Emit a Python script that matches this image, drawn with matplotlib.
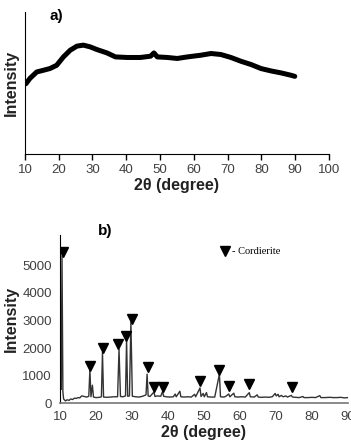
"""XRD patterns: a) amorphous glass, b) crystallised sample with cordierite peaks."""
import matplotlib
matplotlib.use("Agg")
import matplotlib.pyplot as plt

plt.rcParams["font.family"] = ["Liberation Sans", "DejaVu Sans"]

# ── a) amorphous halo (relative intensity, read off the picture) ───────────
a_2theta = [10.3, 11.5, 13.5, 15.5, 17.4, 19.4, 21.4, 23.4, 25.4, 27.3, 29.3,
            31.3, 34.3, 36.8, 40.3, 44.2, 47.2, 48.2, 49.2, 52.2, 55.1, 58.1,
            62.1, 65.1, 68.0, 71.0, 74.0, 77.0, 79.9, 82.9, 85.9, 88.9, 89.9]
a_int = [49.4, 53.2, 57.7, 58.9, 60.1, 62.4, 68.3, 73.0, 75.9, 76.6, 75.4,
         73.5, 71.1, 68.3, 67.9, 67.9, 68.8, 71.1, 68.3, 67.9, 67.2, 68.3,
         69.5, 70.7, 70.0, 67.9, 65.2, 62.9, 60.1, 58.4, 57.0, 55.3, 54.6]

# ── b) crystallised pattern ────────────────────────────────────────────────
b_2theta = [10.35, 10.55, 10.8, 11.0, 11.5, 12.0, 12.5, 13.0, 13.5, 14.0, 14.5,
            15.0, 15.5, 16.0, 16.5, 17.0, 17.5, 18.0, 18.3, 18.6, 19.0, 19.3,
            20.0, 21.0, 21.5, 21.8, 22.1, 23.0, 24.0, 25.0, 26.0, 26.4, 26.8,
            27.5, 28.2, 28.5, 28.8, 29.3, 29.7, 30.1, 31.0, 32.0, 33.0, 33.9,
            34.2, 34.5, 35.0, 36.1, 36.4, 37.0, 38.0, 38.5, 38.8, 39.5, 40.5,
            41.5, 42.0, 42.3, 43.3, 43.6, 44.5, 45.5, 46.5, 47.4, 47.7, 48.9,
            49.2, 49.8, 50.1, 50.7, 51.0, 52.0, 53.0, 54.3, 54.6, 55.5, 56.0,
            56.9, 57.2, 58.3, 58.6, 59.5, 60.5, 61.5, 62.6, 62.9, 64.0, 64.8,
            65.1, 66.0, 67.0, 68.0, 69.0, 69.8, 70.1, 70.6, 70.9, 71.5, 72.0,
            72.8, 73.2, 74.3, 74.6, 75.5, 76.5, 77.5, 77.8, 79.0, 80.0, 81.0,
            82.2, 82.5, 83.5, 85.0, 86.0, 87.0, 88.0, 89.0, 90.0]
b_int = [500, 5350, 400, 150, 80, 120, 100, 150, 130, 180, 170,
         200, 190, 260, 250, 230, 220, 250, 1200, 230, 650, 220,
         200, 210, 230, 1850, 220, 210, 220, 230, 230, 1950, 240,
         230, 260, 2300, 250, 260, 2950, 250, 230, 220, 250, 300,
         1050, 260, 240, 400, 240, 260, 250, 420, 250, 230, 220,
         230, 330, 230, 430, 230, 220, 230, 220, 320, 230, 550,
         240, 350, 230, 380, 230, 220, 220, 1050, 230, 220, 240,
         330, 230, 360, 230, 220, 230, 220, 380, 230, 220, 300,
         220, 210, 220, 210, 230, 350, 260, 320, 230, 280, 230,
         260, 220, 280, 220, 210, 200, 240, 200, 200, 210, 200,
         270, 200, 200, 210, 200, 200, 210, 190, 200]

# cordierite markers
cord_2theta = [10.7, 18.3, 21.9, 26.1, 28.2, 29.9, 34.4, 36.1, 38.5, 48.9,
               54.2, 56.9, 62.6, 74.4]
cord_int = [5480, 1350, 2000, 2130, 2430, 3050, 1300, 600, 600, 800,
            1200, 630, 690, 600]

TICK_C = "#404040"

fig = plt.figure(figsize=(3.51, 4.42), dpi=100)

# ── a) ─────────────────────────────────────────────────────────────────────
ax = fig.add_axes([0.071, 0.652, 0.866, 0.321])
ax.plot(a_2theta, a_int, "-", color="black", lw=3.6, solid_capstyle="round")
ax.set_xlim(10, 100)
ax.set_ylim(0, 100)
ax.set_xticks(range(10, 101, 10))
ax.set_yticks([])
for s in ("top", "right"):
    ax.spines[s].set_visible(False)
ax.tick_params(axis="x", direction="out", length=4, width=1, pad=3,
               labelsize=9.5, labelcolor=TICK_C)
ax.set_xlabel("2θ (degree)", fontsize=11.5, fontweight="bold", color="#222",
              labelpad=2)
ax.set_ylabel("Intensity", fontsize=11.5, fontweight="bold", color="#222",
              labelpad=4)
fig.text(50 / 351, 1 - 16 / 442, "a)", fontsize=11, fontweight="bold",
         va="center", ha="left")

# ── b) ─────────────────────────────────────────────────────────────────────
bx = fig.add_axes([0.171, 0.088, 0.820, 0.380])
bx.plot(b_2theta, b_int, "-", color="#333333", lw=1.0)
bx.plot(cord_2theta, cord_int, "v", color="black", ms=7, ls="none")
bx.set_xlim(10, 90)
bx.set_ylim(0, 6100)
bx.set_xticks(range(10, 91, 10))
bx.set_yticks(range(0, 5001, 1000))
for s in ("top", "right"):
    bx.spines[s].set_visible(False)
bx.spines["bottom"].set_color("#777777")
bx.spines["bottom"].set_linewidth(1.2)
bx.tick_params(axis="both", length=0, pad=6, labelsize=9.5, labelcolor=TICK_C)
bx.set_xlabel("2θ (degree)", fontsize=11.5, fontweight="bold", color="#222",
              labelpad=1)
bx.set_ylabel("Intensity", fontsize=11.5, fontweight="bold", color="#222",
              labelpad=2)
bx.plot([0.573], [0.905], "v", color="black", ms=7, transform=bx.transAxes,
        clip_on=False)
bx.text(0.598, 0.905, "- Cordierite", transform=bx.transAxes, fontsize=7.5,
        family=["Liberation Serif", "DejaVu Serif"], va="center", ha="left")
fig.text(98 / 351, 1 - 231 / 442, "b)", fontsize=11, fontweight="bold",
         va="center", ha="left")

fig.savefig("out.png", dpi=100)
